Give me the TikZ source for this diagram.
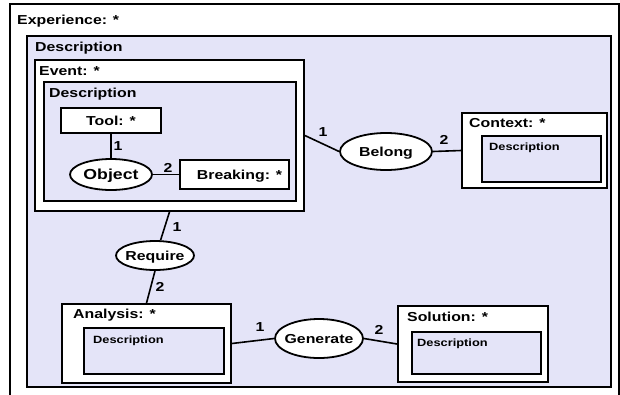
\documentclass[tikz,border=0pt]{standalone}
\usepackage{fontspec}
\setmainfont{Liberation Sans}[FakeStretch=1.22]
\usetikzlibrary{shapes.geometric}
\definecolor{lavanda}{RGB}{228,228,248}
\tikzset{
  frame/.style={rectangle, draw=black, line width=1.8pt, fill=white, inner sep=0pt, text depth=0pt, font=\fontsize{13}{15}\selectfont\bfseries},
  descbox/.style={frame, fill=lavanda},
  relation/.style={ellipse, draw=black, line width=1.8pt, fill=white, inner sep=0pt, text depth=0pt, font=\fontsize{13}{15}\selectfont\bfseries},
  title/.style={inner sep=0pt, anchor=base west, font=\fontsize{13}{15}\selectfont\bfseries},
  smalltitle/.style={title, font=\fontsize{10.5}{12}\selectfont\bfseries},
  num/.style={inner sep=0pt, font=\fontsize{13}{15}\selectfont\bfseries},
  link/.style={line width=1.6pt}
}
\begin{document}
\begin{tikzpicture}[x=1pt, y=-1pt]
        \clip (0,0) rectangle (620,394);

        % Contenedores
        \node (exp) [frame, minimum width=609pt, minimum height=400pt] at (314.5,204) {};
        \node (expTitle) [title] at (17,24) {Experience: *};
        \node (expDesc) [descbox, minimum width=584pt, minimum height=351pt] at (319,211.5) {};
        \node (expDescTitle) [title] at (35,51) {Description};

        % Evento y su descripcion
        \node (event) [frame, minimum width=269pt, minimum height=151pt] at (169.5,135.5) {};
        \node (eventTitle) [title] at (39,75) {Event: *};
        \node (eventDesc) [descbox, minimum width=252pt, minimum height=119pt] at (170,141.5) {};
        \node (eventDescTitle) [title] at (49,97) {Description};
        \node (tool) [frame, minimum width=100pt, minimum height=25pt] at (111,120.5) {Tool: *};
        \node (object) [relation, minimum width=82pt, minimum height=31pt, font=\fontsize{14.5}{16}\selectfont\bfseries] at (111,174.5) {\makebox[0pt]{Object}};
        \node (breaking) [frame, minimum width=109pt, minimum height=29pt] at (234.5,174.5) {\makebox[0pt]{\hspace{10pt}Breaking: *}};

        % Contexto
        \node (belong) [relation, minimum width=92pt, minimum height=37pt] at (386,151.5) {\makebox[0pt]{Belong}};
        \node (context) [frame, minimum width=145pt, minimum height=75pt] at (534.5,150.5) {};
        \node (contextTitle) [title] at (469,127) {Context: *};
        \node (contextDesc) [descbox, minimum width=119pt, minimum height=46pt] at (541.5,159) {};
        \node (contextDescTitle) [smalltitle] at (489,150) {Description};

        % Analisis y solucion
        \node (require) [relation, minimum width=78pt, minimum height=29pt] at (155,255.5) {\makebox[0pt]{Require}};
        \node (analysis) [frame, minimum width=169pt, minimum height=79pt] at (146.5,343.5) {};
        \node (analysisTitle) [title] at (73,318) {Analysis: *};
        \node (analysisDesc) [descbox, minimum width=140pt, minimum height=46pt] at (154,351) {};
        \node (analysisDescTitle) [smalltitle] at (93,343) {Description};
        \node (generate) [relation, minimum width=88pt, minimum height=39pt] at (319,338.5) {\makebox[0pt]{Generate}};
        \node (solution) [frame, minimum width=150pt, minimum height=76pt] at (473,344) {};
        \node (solutionTitle) [title] at (407,321) {Solution: *};
        \node (solutionDesc) [descbox, minimum width=129pt, minimum height=42pt] at (476.5,353) {};
        \node (solutionDescTitle) [smalltitle] at (417,346) {Description};

        % Conexiones
        \draw [link] (tool.south) -- (object.north);
        \draw [link] (object.east) -- (breaking.west);
        \draw [link] (event.east) -- (belong.west);
        \draw [link] (belong.east) -- (context.west);
        \draw [link] (event.south) -- (require.70);
        \draw [link] (require.south) -- (analysis.north);
        \draw [link] (analysis.east) -- (generate.west);
        \draw [link] (generate.east) -- (solution.west);

        % Multiplicidades
        \node (toolNum) [num] at (118,146) {1};
        \node (breakingNum) [num] at (168,168) {2};
        \node (eventNum) [num] at (323,132) {1};
        \node (contextNum) [num] at (444,140) {2};
        \node (requireNum) [num] at (177,227) {1};
        \node (analysisNum) [num] at (160,287) {2};
        \node (generateNum) [num] at (260,327) {1};
        \node (solutionNum) [num] at (379,330) {2};

    \end{tikzpicture}
\end{document}
